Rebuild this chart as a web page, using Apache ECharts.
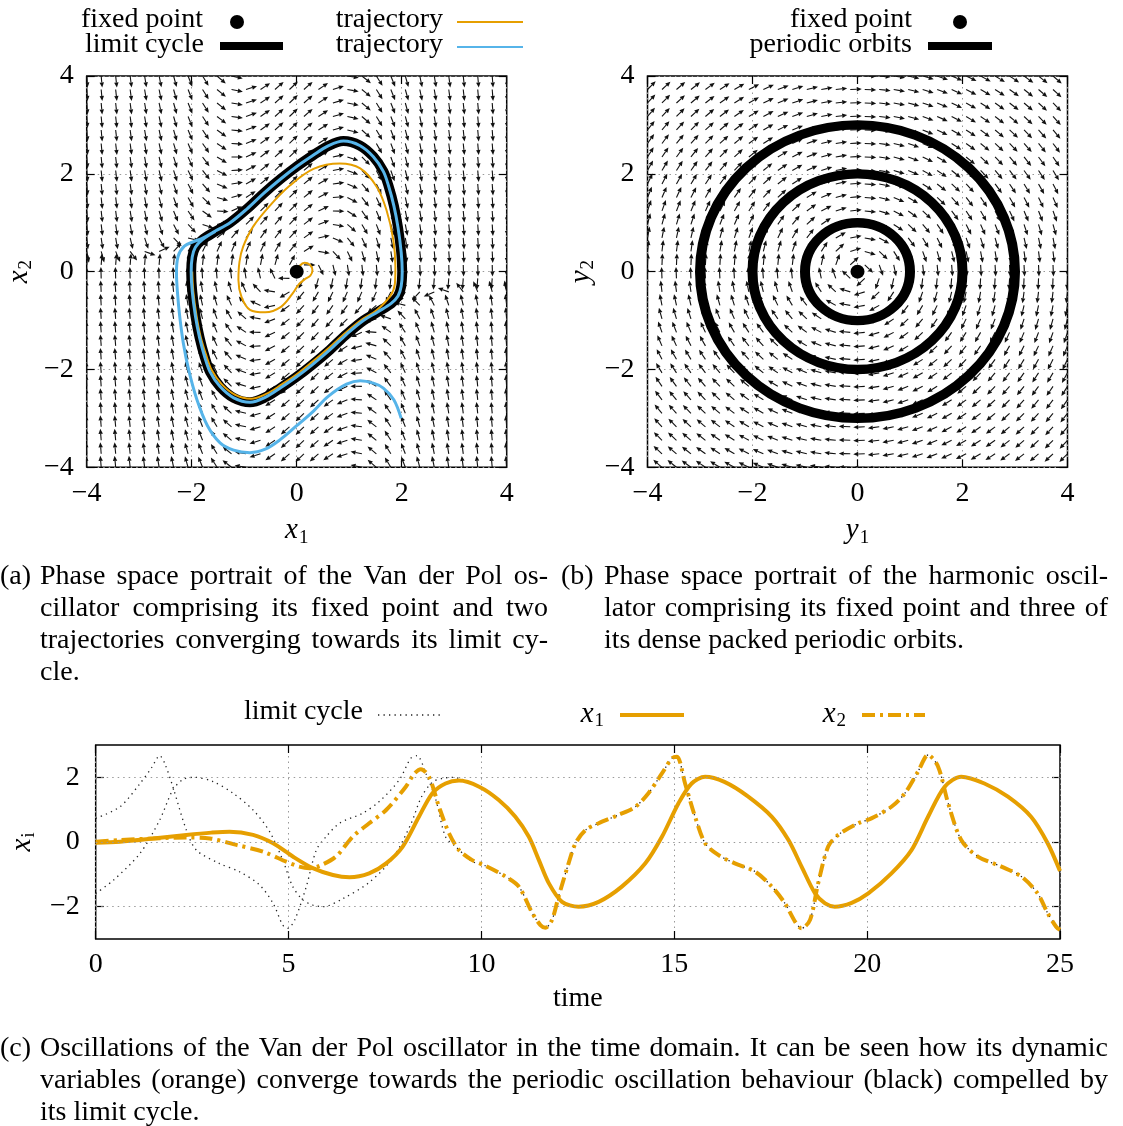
<!DOCTYPE html>
<html><head><meta charset="utf-8">
<script src="https://cdn.jsdelivr.net/npm/echarts@6/dist/echarts.min.js"></script>
<style>html,body{margin:0;padding:0;background:#fff}#c{width:1123px;height:1126px}</style>
</head><body><div id="c"></div>
<script>
// ---------------- data ----------------
const phaseTicks = [-4, -2, 0, 2, 4];
const timeTicks = [0, 5, 10, 15, 20, 25];
const xiTicks = [-2, 0, 2];
const fieldSamples = 30;          // quiver grid points per axis, from -4 to 4
const vdpMu = 1;                  // Van der Pol parameter (x1' = x2, x2' = mu(1-x1^2)x2 - x1)
const fixedPoint = [[0, 0]];
const orbitRadii = [1, 2, 3];     // periodic orbits of the harmonic oscillator

const limitCycle = [[2.01,0],[1.99,-0.3],[1.93,-0.5],[1.8,-0.65],[1.55,-0.82],[1.27,-1.0],[0.95,-1.28],[0.63,-1.6],[0.3,-1.9],[0,-2.15],[-0.3,-2.37],[-0.6,-2.57],[-0.89,-2.67],[-1.2,-2.58],[-1.46,-2.35],[-1.65,-2.05],[-1.75,-1.75],[-1.85,-1.35],[-1.93,-0.9],[-1.99,-0.4],[-2.01,0],[-1.99,0.3],[-1.93,0.5],[-1.8,0.65],[-1.55,0.82],[-1.27,1.0],[-0.95,1.28],[-0.63,1.6],[-0.3,1.9],[0,2.15],[0.3,2.37],[0.6,2.57],[0.89,2.67],[1.2,2.58],[1.46,2.35],[1.65,2.05],[1.75,1.75],[1.85,1.35],[1.93,0.9],[1.99,0.4],[2.01,0]];

const trajOrange = [[0.02,0.02],[0.06,0.12],[0.15,0.18],[0.25,0.14],[0.3,0.03],[0.26,-0.08],[0.15,-0.16],[0.04,-0.26],[-0.08,-0.45],[-0.3,-0.72],[-0.6,-0.83],[-0.89,-0.78],[-1.05,-0.52],[-1.11,-0.17],[-1.09,0.2],[-1.02,0.51],[-0.83,0.92],[-0.51,1.35],[-0.13,1.76],[0.32,2.1],[0.82,2.21],[1.21,2.11],[1.52,1.74],[1.71,1.26],[1.84,0.65],[1.88,0.1],[1.87,-0.25],[1.78,-0.5],[1.51,-0.8],[1.24,-0.98],[0.93,-1.25],[0.61,-1.56],[0.29,-1.85],[0,-2.1],[-0.29,-2.31],[-0.58,-2.5],[-0.87,-2.6],[-1.17,-2.52],[-1.43,-2.3],[-1.62,-2.01],[-1.72,-1.72],[-1.83,-1.33],[-1.91,-0.89],[-1.97,-0.4],[-1.99,0]];

const trajBlue = [[1.99,-3.0],[1.85,-2.62],[1.65,-2.38],[1.46,-2.28],[1.21,-2.23],[0.95,-2.3],[0.6,-2.55],[0.32,-2.85],[0,-3.15],[-0.32,-3.44],[-0.6,-3.63],[-0.89,-3.7],[-1.2,-3.65],[-1.46,-3.5],[-1.7,-3.15],[-1.9,-2.62],[-2.06,-2.0],[-2.16,-1.46],[-2.23,-0.9],[-2.27,-0.44],[-2.29,-0.03],[-2.26,0.31],[-2.14,0.52],[-1.95,0.62],[-1.8,0.68],[-1.55,0.83],[-1.27,1.0],[-0.95,1.28],[-0.63,1.6],[-0.3,1.9],[0,2.15],[0.3,2.37],[0.6,2.57],[0.89,2.67],[1.2,2.58],[1.46,2.35],[1.65,2.05],[1.75,1.75],[1.85,1.35],[1.93,0.9],[1.99,0.4],[2.01,0],[1.99,-0.3],[1.93,-0.5],[1.8,-0.65],[1.55,-0.82],[1.27,-1.0],[0.95,-1.28],[0.63,-1.6],[0.3,-1.9],[0,-2.15],[-0.3,-2.37],[-0.6,-2.57],[-0.89,-2.67],[-1.2,-2.58],[-1.46,-2.35],[-1.65,-2.05],[-1.75,-1.75],[-1.85,-1.35],[-1.93,-0.9],[-1.99,-0.4],[-2.01,0],[-1.99,0.3],[-1.93,0.5],[-1.8,0.65],[-1.55,0.82]];

// time domain  [t, value]
const tsX1 = [[0,-0.02],[0.63,0.01],[1.49,0.11],[2.35,0.22],[3.0,0.29],[3.47,0.32],[4.08,0.22],[4.6,-0.04],[5.11,-0.45],[5.63,-0.81],[6.15,-1.02],[6.58,-1.09],[7.09,-0.97],[7.53,-0.66],[7.96,-0.14],[8.38,0.78],[8.73,1.51],[9.07,1.81],[9.42,1.9],[9.94,1.71],[10.45,1.3],[10.88,0.78],[11.23,0.16],[11.49,-0.56],[11.75,-1.28],[12.09,-1.85],[12.52,-2.0],[13.04,-1.85],[13.64,-1.38],[14.25,-0.66],[14.68,0.16],[15.11,1.2],[15.45,1.81],[15.8,2.02],[16.3,1.86],[16.9,1.42],[17.53,0.78],[17.96,0.06],[18.3,-0.76],[18.65,-1.59],[18.91,-1.9],[19.16,-2.0],[19.6,-1.88],[20.03,-1.59],[20.63,-0.97],[21.15,-0.25],[21.58,0.78],[22.01,1.71],[22.44,2.02],[23.04,1.81],[23.65,1.4],[24.25,0.78],[24.68,-0.04],[25,-0.9]];
const tsX2 = [[0,0.01],[0.63,0.06],[1.49,0.11],[2.35,0.14],[2.96,0.11],[3.65,-0.09],[4.34,-0.3],[4.94,-0.61],[5.28,-0.76],[5.54,-0.81],[5.8,-0.74],[6.23,-0.45],[6.66,0.16],[7.09,0.58],[7.53,0.99],[8.04,1.71],[8.25,2.1],[8.43,2.25],[8.64,2.02],[8.9,1.09],[9.16,0.27],[9.42,-0.25],[9.76,-0.56],[10.11,-0.74],[10.63,-1.07],[10.97,-1.38],[11.32,-2.2],[11.53,-2.57],[11.66,-2.65],[11.83,-2.41],[12.0,-1.69],[12.26,-0.66],[12.44,-0.04],[12.7,0.37],[13.04,0.58],[13.56,0.84],[13.99,1.09],[14.33,1.51],[14.68,2.12],[14.94,2.59],[15.07,2.64],[15.28,1.81],[15.54,0.78],[15.8,-0.04],[16.14,-0.4],[16.57,-0.66],[17.1,-0.92],[17.53,-1.38],[17.87,-1.9],[18.13,-2.46],[18.3,-2.67],[18.52,-2.41],[18.73,-1.28],[18.99,-0.14],[19.25,0.22],[19.77,0.58],[20.11,0.73],[20.63,1.09],[20.98,1.51],[21.32,2.18],[21.58,2.69],[21.84,2.33],[22.1,1.2],[22.44,0.06],[22.87,-0.45],[23.48,-0.76],[24.0,-1.07],[24.42,-1.59],[24.68,-2.2],[24.9,-2.62],[25,-2.72]];
const tsLc1 = [[0,-1.59],[0.46,-1.18],[1.15,-0.35],[1.66,0.68],[2.0,1.61],[2.27,1.94],[2.57,2.0],[3.04,1.87],[3.56,1.51],[4.08,0.99],[4.51,0.32],[4.85,-0.56],[5.11,-1.38],[5.37,-1.79],[5.63,-1.95],[5.9,-2.0],[6.41,-1.75],[7.09,-1.25],[7.7,-0.5],[8.17,0.55],[8.44,1.38],[8.73,1.85],[9.0,1.97],[9.25,2.0],[9.94,1.71],[10.45,1.3],[10.88,0.78],[11.23,0.16],[11.49,-0.56],[11.75,-1.28],[12.09,-1.85],[12.52,-2.0],[13.04,-1.85],[13.64,-1.38],[14.25,-0.66],[14.68,0.16],[15.11,1.2],[15.45,1.81],[15.8,2.02],[16.3,1.86],[16.9,1.42],[17.53,0.78],[17.96,0.06],[18.3,-0.76],[18.65,-1.59],[18.91,-1.9],[19.16,-2.0],[19.6,-1.88],[20.03,-1.59],[20.63,-0.97],[21.15,-0.25],[21.58,0.78],[22.01,1.71],[22.44,2.02],[23.04,1.81],[23.65,1.4],[24.25,0.78],[24.68,-0.04],[25,-0.9]];
const tsLc2 = [[0,0.73],[0.63,1.09],[1.15,1.81],[1.45,2.3],[1.66,2.67],[1.8,2.4],[2.0,1.71],[2.35,0.37],[2.61,-0.25],[3.2,-0.66],[3.73,-0.92],[4.25,-1.33],[4.6,-1.9],[4.85,-2.57],[4.98,-2.67],[5.16,-2.41],[5.46,-1.38],[5.72,-0.25],[5.97,0.16],[6.32,0.58],[6.92,0.89],[7.35,1.25],[7.87,1.92],[8.17,2.59],[8.33,2.67],[8.56,2.12],[8.82,1.3],[9.07,0.16],[9.33,-0.14],[9.76,-0.6],[10.11,-0.74],[10.63,-1.07],[10.97,-1.38],[11.32,-2.2],[11.53,-2.57],[11.66,-2.65],[11.83,-2.41],[12.0,-1.69],[12.26,-0.66],[12.44,-0.04],[12.7,0.37],[13.04,0.58],[13.56,0.84],[13.99,1.09],[14.33,1.51],[14.68,2.12],[14.94,2.59],[15.07,2.64],[15.28,1.81],[15.54,0.78],[15.8,-0.04],[16.14,-0.4],[16.57,-0.66],[17.1,-0.92],[17.53,-1.38],[17.87,-1.9],[18.13,-2.46],[18.3,-2.67],[18.52,-2.41],[18.73,-1.28],[18.99,-0.14],[19.25,0.22],[19.77,0.58],[20.11,0.73],[20.63,1.09],[20.98,1.51],[21.32,2.18],[21.58,2.69],[21.84,2.33],[22.1,1.2],[22.44,0.06],[22.87,-0.45],[23.48,-0.76],[24.0,-1.07],[24.42,-1.59],[24.68,-2.2],[24.9,-2.62],[25,-2.72]];

const captionA = ["Phase space portrait of the Van der Pol os-", "cillator comprising its fixed point and two", "trajectories converging towards its limit cy-", "cle."];
const captionB = ["Phase space portrait of the harmonic oscil-", "lator comprising its fixed point and three of", "its dense packed periodic orbits."];
const captionC = ["Oscillations of the Van der Pol oscillator in the time domain. It can be seen how its dynamic", "variables (orange) converge towards the periodic oscillation behaviour (black) compelled by", "its limit cycle."];

// ---------------- style ----------------
const FONT = '"Liberation Serif", "Times New Roman", serif';
const FS = 28;
const ORANGE = '#E69F00', BLUE = '#56B4E9';
const minus = v => (v < 0 ? '\u2212' + (-v) : '' + v);

const chart = echarts.init(document.getElementById('c'), null, {renderer: 'canvas'});

function vdpField(x, y) { return [y, vdpMu * (1 - x * x) * y - x]; }
function harmonicField(x, y) { return [y, -x]; }

function quiver(idx, field) {
  const data = [];
  for (let i = 0; i < fieldSamples; i++) for (let j = 0; j < fieldSamples; j++) {
    const x = -4 + 8 * i / (fieldSamples - 1), y = -4 + 8 * j / (fieldSamples - 1);
    const f = field(x, y);
    data.push([x, y, f[0], f[1]]);
  }
  return {
    type: 'custom', xAxisIndex: idx, yAxisIndex: idx, data, clip: true, silent: true, z: 1,
    renderItem(params, api) {
      const p = api.coord([api.value(0), api.value(1)]);
      const s = api.size([1, 1]);
      let dx = api.value(2) * s[0], dy = -api.value(3) * s[1];
      const m = Math.hypot(dx, dy) || 1; dx /= m; dy /= m;
      const L = 11.5, H = 5, W = 2.2;
      const ex = p[0] + dx * L, ey = p[1] + dy * L, bx = ex - dx * H, by = ey - dy * H;
      return {type: 'group', children: [
        {type: 'line', shape: {x1: p[0], y1: p[1], x2: bx, y2: by}, style: {stroke: '#111', lineWidth: 1.1}},
        {type: 'polygon', shape: {points: [[ex, ey], [bx - dy * W, by + dx * W], [bx + dy * W, by - dx * W]]}, style: {fill: '#111'}}
      ]};
    }
  };
}

function orbitSeries(idx) {
  return {
    type: 'custom', xAxisIndex: idx, yAxisIndex: idx, data: orbitRadii.map(r => [0, 0, r]), silent: true, z: 3, clip: true,
    renderItem(params, api) {
      const c = api.coord([api.value(0), api.value(1)]);
      const s = api.size([api.value(2), api.value(2)]);
      return {type: 'circle', shape: {cx: 0, cy: 0, r: s[0]}, x: c[0], y: c[1], scaleY: s[1] / s[0],
        style: {fill: 'none', stroke: '#000', lineWidth: 10, strokeNoScale: true}};
    }
  };
}

const gridStyle = {show: true, lineStyle: {color: '#999', width: 1, type: [1.5, 4]}};
const labelStyle = {fontFamily: FONT, fontSize: FS, color: '#000'};
const richName = {
  i: {fontFamily: FONT, fontStyle: 'italic', fontSize: 29, color: '#000'},
  s: {fontFamily: FONT, fontSize: 19, color: '#000', padding: [14, 0, 0, 1]}
};
const noLine = {show: false, onZero: false};
const tickStyle = {inside: true, length: 8, lineStyle: {color: '#000', width: 1.2}};

function phaseX(gi, name) {
  return {gridIndex: gi, type: 'value', min: -4, max: 4, interval: 2, position: 'bottom',
    axisLine: noLine, axisTick: tickStyle,
    axisLabel: {...labelStyle, margin: 12, formatter: minus}, splitLine: gridStyle,
    name, nameLocation: 'middle', nameGap: 47, nameTextStyle: {rich: richName}};
}
function phaseY(gi, name, gap) {
  return {gridIndex: gi, type: 'value', min: -4, max: 4, interval: 2, position: 'left',
    axisLine: noLine, axisTick: tickStyle,
    axisLabel: {...labelStyle, margin: 13, formatter: minus}, splitLine: gridStyle,
    name, nameLocation: 'middle', nameGap: gap, nameRotate: 90, nameTextStyle: {rich: richName}};
}
function mirrorAxis(gi, pos, min, max, interval, custom) {
  const a = {gridIndex: gi, type: 'value', min, max, position: pos, axisLine: noLine,
    axisTick: {...tickStyle}, axisLabel: {show: false}, splitLine: {show: false}};
  if (custom) { a.axisTick.customValues = custom; a.axisLabel.customValues = custom; } else a.interval = interval;
  return a;
}

const option = {
  animation: false,
  backgroundColor: '#fff',
  grid: [
    {left: 86.7, top: 76, width: 420, height: 391.3, show: true, borderColor: '#000', borderWidth: 1.5, backgroundColor: 'transparent'},
    {left: 647.5, top: 76, width: 420, height: 391.3, show: true, borderColor: '#000', borderWidth: 1.5, backgroundColor: 'transparent'},
    {left: 94, top: 745, width: 966, height: 194, show: true, borderColor: '#000', borderWidth: 1.5, backgroundColor: 'transparent'}
  ],
  xAxis: [
    phaseX(0, '{i|x}{s|1}'),
    phaseX(1, '{i|y}{s|1}'),
    {gridIndex: 2, type: 'value', min: 0, max: 25, interval: 5, position: 'bottom', axisLine: noLine,
      axisTick: tickStyle,
      axisLabel: {...labelStyle, margin: 12}, splitLine: gridStyle,
      name: 'time', nameLocation: 'middle', nameGap: 46, nameTextStyle: {fontFamily: FONT, fontSize: FS, color: '#000'}},
    mirrorAxis(0, 'top', -4, 4, 2),
    mirrorAxis(1, 'top', -4, 4, 2),
    mirrorAxis(2, 'top', 0, 25, 5)
  ],
  yAxis: [
    phaseY(0, '{i|x}{s|2}', 51),
    phaseY(1, '{i|y}{s|2}', 50),
    {gridIndex: 2, type: 'value', min: -3, max: 3, position: 'left', axisLine: noLine,
      axisTick: {...tickStyle, customValues: xiTicks},
      axisLabel: {...labelStyle, margin: 16, customValues: xiTicks, formatter: minus}, splitLine: {show: false},
      name: '{i|x}{s|i}', nameLocation: 'middle', nameGap: 51, nameRotate: 90, nameTextStyle: {rich: richName}},
    mirrorAxis(0, 'right', -4, 4, 2),
    mirrorAxis(1, 'right', -4, 4, 2),
    mirrorAxis(2, 'right', -3, 3, 0, xiTicks)
  ],
  series: [
    quiver(0, vdpField),
    quiver(1, harmonicField),
    {type: 'line', xAxisIndex: 0, yAxisIndex: 0, data: limitCycle, showSymbol: false, smooth: 0.35, silent: true, z: 3,
      lineStyle: {color: '#000', width: 10}},
    {type: 'line', xAxisIndex: 0, yAxisIndex: 0, data: trajOrange, showSymbol: false, smooth: 0.35, silent: true, z: 4,
      lineStyle: {color: ORANGE, width: 2}},
    {type: 'line', xAxisIndex: 0, yAxisIndex: 0, data: trajBlue, showSymbol: false, smooth: 0.35, silent: true, z: 5,
      lineStyle: {color: BLUE, width: 3}},
    {type: 'scatter', xAxisIndex: 0, yAxisIndex: 0, data: fixedPoint, symbolSize: 14, itemStyle: {color: '#000', opacity: 1}, z: 6, silent: true},
    orbitSeries(1),
    {type: 'scatter', xAxisIndex: 1, yAxisIndex: 1, data: fixedPoint, symbolSize: 14, itemStyle: {color: '#000', opacity: 1}, z: 6, silent: true},
    // time domain
    {type: 'line', xAxisIndex: 2, yAxisIndex: 2, data: tsLc1, showSymbol: false, smooth: 0.3, silent: true, z: 2,
      lineStyle: {color: '#222', width: 1.3, type: [1.3, 4.2]},
      markLine: {silent: true, symbol: 'none', label: {show: false}, lineStyle: {color: '#999', width: 1, type: [1.5, 4]},
        data: xiTicks.map(v => ({yAxis: v}))}},
    {type: 'line', xAxisIndex: 2, yAxisIndex: 2, data: tsLc2, showSymbol: false, smooth: 0.3, silent: true, z: 2,
      lineStyle: {color: '#222', width: 1.3, type: [1.3, 4.2]}},
    {type: 'line', xAxisIndex: 2, yAxisIndex: 2, data: tsX1, showSymbol: false, smooth: 0.3, silent: true, z: 4,
      lineStyle: {color: ORANGE, width: 4}},
    {type: 'line', xAxisIndex: 2, yAxisIndex: 2, data: tsX2, showSymbol: false, smooth: 0.3, silent: true, z: 4,
      lineStyle: {color: ORANGE, width: 4, type: [13, 5, 3, 5]}}
  ],
  graphic: []
};

// ----- legends and captions (graphic) -----
const G = [];
function txt(x, y, text, align, size, extra) {
  G.push({type: 'text', x, y, silent: true, style: Object.assign({text, fill: '#000', font: (size || FS) + 'px ' + FONT, align: align || 'left', verticalAlign: 'middle'}, extra || {})});
}
function seg(x1, y1, x2, y2, color, w, dash) {
  G.push({type: 'line', silent: true, shape: {x1, y1, x2, y2}, style: {stroke: color, lineWidth: w, lineDash: dash || null}});
}
// (a) legend
txt(203, 20, 'fixed point', 'right');
G.push({type: 'circle', silent: true, shape: {cx: 237, cy: 22, r: 7}, style: {fill: '#000'}});
txt(204, 45, 'limit cycle', 'right');
seg(220, 46, 283, 46, '#000', 8);
txt(443, 20, 'trajectory', 'right');
seg(457, 22, 523, 22, ORANGE, 2);
txt(443, 45, 'trajectory', 'right');
seg(457, 47, 523, 47, BLUE, 2);
// (b) legend
txt(912, 20, 'fixed point', 'right');
G.push({type: 'circle', silent: true, shape: {cx: 960, cy: 22, r: 7}, style: {fill: '#000'}});
txt(912, 45, 'periodic orbits', 'right');
seg(928, 46, 992, 46, '#000', 8);
// (c) legend
txt(363, 712, 'limit cycle', 'right');
seg(378, 715, 440, 715, '#222', 1.3, [1.3, 4.2]);
G.push({type: 'text', x: 604, y: 714, silent: true, style: {text: '{i|x}{s|1}', rich: richName, align: 'right', verticalAlign: 'middle'}});
seg(620, 715, 684, 715, ORANGE, 4);
G.push({type: 'text', x: 846, y: 714, silent: true, style: {text: '{i|x}{s|2}', rich: richName, align: 'right', verticalAlign: 'middle'}});
seg(862, 715, 925, 715, ORANGE, 4, [13, 5, 3, 5]);

// captions with justified lines
const mctx = document.createElement('canvas').getContext('2d');
const CF = 28;
mctx.font = CF + 'px ' + FONT;
function caption(label, lx, lines, x0, x1, y0) {
  txt(lx, y0, label, 'left', CF);
  lines.forEach((line, k) => {
    const y = y0 + k * 32;
    if (k === lines.length - 1) { txt(x0, y, line, 'left', CF); return; }
    const words = line.split(' ');
    const widths = words.map(w => mctx.measureText(w).width);
    const total = widths.reduce((a, b) => a + b, 0);
    const gap = (x1 - x0 - total) / (words.length - 1);
    let x = x0;
    words.forEach((w, i) => { txt(x, y, w, 'left', CF); x += widths[i] + gap; });
  });
}
caption('(a)', 0, captionA, 40, 548, 577);
caption('(b)', 561, captionB, 604, 1108, 577);
caption('(c)', 0, captionC, 40, 1108, 1049);

option.graphic = G;
chart.setOption(option);
</script>
</body></html>
